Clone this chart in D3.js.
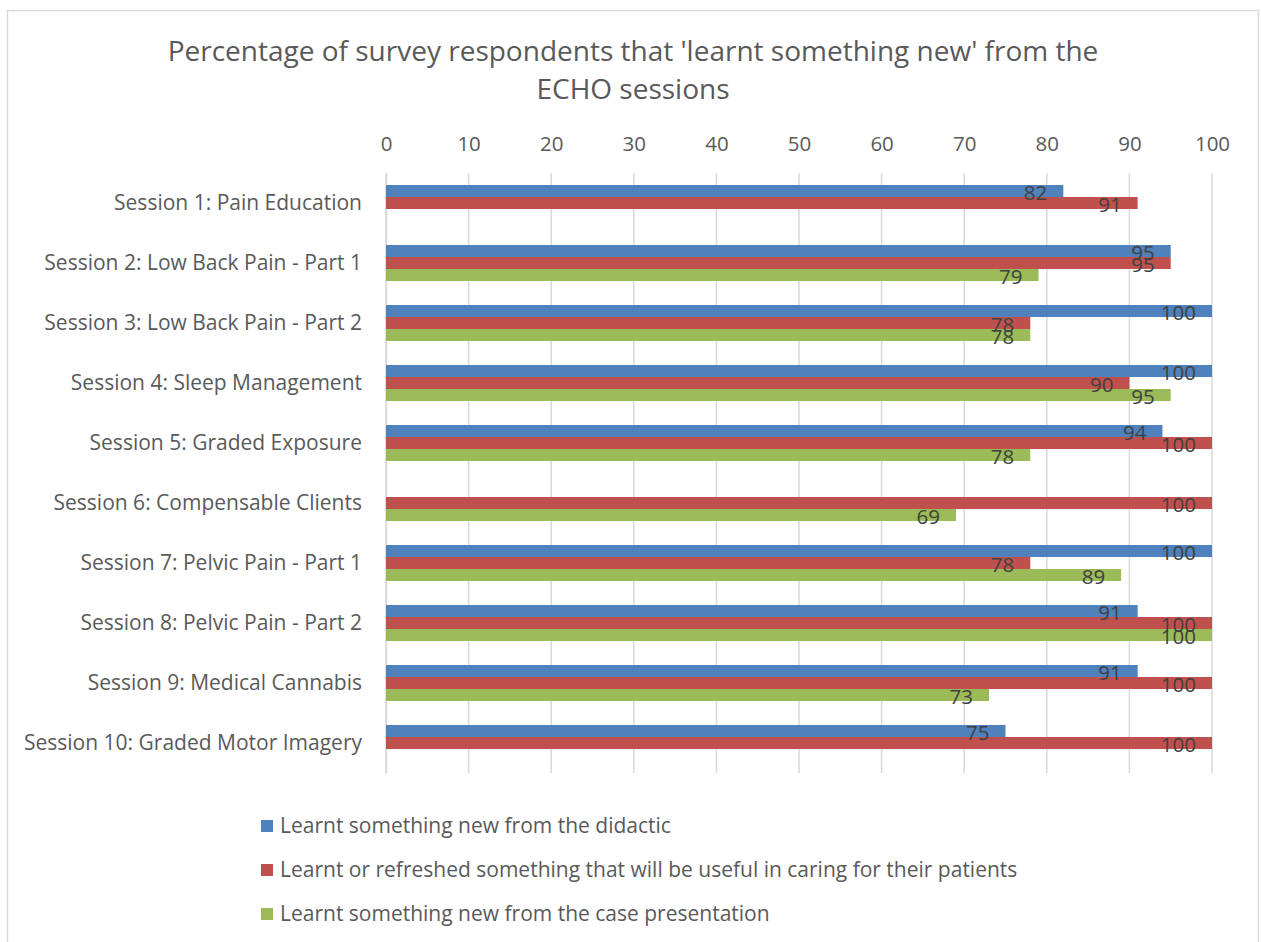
<!DOCTYPE html>
<html>
<head>
<meta charset="utf-8">
<script src="https://cdn.jsdelivr.net/npm/d3@7"></script>
<style>
  html, body { margin: 0; padding: 0; background: #fff; }
  svg text { font-family: "Open Sans", "Noto Sans", sans-serif; }
</style>
</head>
<body>
<svg id="chart" width="1261" height="942"></svg>
<script>
// Sessions, top to bottom
const sessions = [
  "Session 1: Pain Education",
  "Session 2: Low Back Pain - Part 1",
  "Session 3: Low Back Pain - Part 2",
  "Session 4: Sleep Management",
  "Session 5: Graded Exposure",
  "Session 6: Compensable Clients",
  "Session 7: Pelvic Pain - Part 1",
  "Session 8: Pelvic Pain - Part 2",
  "Session 9: Medical Cannabis",
  "Session 10: Graded Motor Imagery"
];

// Percentages per survey question (null = not asked for that session)
const didactic = [82, 95, 100, 100, 94, null, 100, 91, 91, 75];
const usefulForPatients = [91, 95, 78, 90, 100, 100, 78, 100, 100, 100];
const casePresentation = [null, 79, 78, 95, 78, 69, 89, 100, 73, null];

const seriesNames = [
  "Learnt something new from the didactic",
  "Learnt or refreshed something that will be useful in caring for their patients",
  "Learnt something new from the case presentation"
];
const seriesColors = ["#4f81bd", "#c0504d", "#9bbb59"];
const xTicks = [0, 10, 20, 30, 40, 50, 60, 70, 80, 90, 100];

const titleLines = [
  "Percentage of survey respondents that 'learnt something new' from the",
  "ECHO sessions"
];

const seriesValues = [didactic, usefulForPatients, casePresentation];

const svg = d3.select("#chart");

// outer chart frame
svg.append("rect")
  .attr("x", 7.5).attr("y", 10.5)
  .attr("width", 1251).attr("height", 960)
  .attr("fill", "#fff").attr("stroke", "#d9d9d9").attr("stroke-width", 1.5);

const x = d3.scaleLinear().domain([0, 100]).range([386, 1212]);
const y = d3.scaleBand().domain(sessions).range([173, 773]).paddingInner(0).paddingOuter(0);
const slot = d3.scaleBand().domain([0, 1, 2]).range([12, 48]);

// title
svg.append("g").selectAll("text")
  .data(titleLines)
  .join("text")
  .attr("x", 633)
  .attr("y", (d, i) => 61 + i * 38)
  .attr("text-anchor", "middle")
  .attr("fill", "#595959")
  .attr("font-size", 28)
  .text(d => d);

// vertical gridlines
svg.append("g").selectAll("line")
  .data(xTicks)
  .join("line")
  .attr("x1", d => x(d)).attr("x2", d => x(d))
  .attr("y1", 173).attr("y2", 773)
  .attr("stroke", "#d9d9d9").attr("stroke-width", 1.5);

// top axis tick labels
const xAxis = d3.axisTop(x).tickValues(xTicks).tickSize(0).tickPadding(0);
const gx = svg.append("g").attr("transform", "translate(0,151)").call(xAxis);
gx.select(".domain").remove();
gx.selectAll("text")
  .attr("font-family", "Open Sans")
  .attr("font-size", 20.5)
  .attr("fill", "#595959");

// category axis
const yAxis = d3.axisLeft(y).tickSize(0).tickPadding(24);
const gy = svg.append("g").attr("transform", "translate(386,0)").call(yAxis);
gy.select(".domain").attr("stroke", "#d9d9d9").attr("stroke-width", 1.5);
gy.selectAll("text")
  .attr("font-family", "Open Sans")
  .attr("font-size", 21)
  .attr("fill", "#595959");

// bars and value labels
const rows = [];
sessions.forEach((s, i) => {
  seriesValues.forEach((vals, k) => {
    if (vals[i] !== null) rows.push({ session: s, series: k, value: vals[i] });
  });
});

svg.append("g").selectAll("rect")
  .data(rows)
  .join("rect")
  .attr("x", x(0))
  .attr("y", d => y(d.session) + slot(d.series))
  .attr("width", d => x(d.value) - x(0))
  .attr("height", slot.bandwidth())
  .attr("fill", d => seriesColors[d.series]);

svg.append("g").selectAll("text")
  .data(rows)
  .join("text")
  .attr("x", d => x(d.value) - 16)
  .attr("y", d => y(d.session) + slot(d.series) + slot.bandwidth() / 2 + 2)
  .attr("dy", "0.35em")
  .attr("text-anchor", "end")
  .attr("fill", "#404040")
  .attr("font-size", 20.5)
  .text(d => d.value);

// legend
const legend = svg.append("g").selectAll("g")
  .data(seriesNames)
  .join("g")
  .attr("transform", (d, i) => `translate(261,${826 + i * 44})`);
legend.append("rect")
  .attr("x", 0).attr("y", -6)
  .attr("width", 12).attr("height", 12)
  .attr("fill", (d, i) => seriesColors[i]);
legend.append("text")
  .attr("x", 19)
  .attr("dy", "0.35em")
  .attr("fill", "#595959")
  .attr("font-size", 21)
  .text(d => d);
</script>
</body>
</html>
